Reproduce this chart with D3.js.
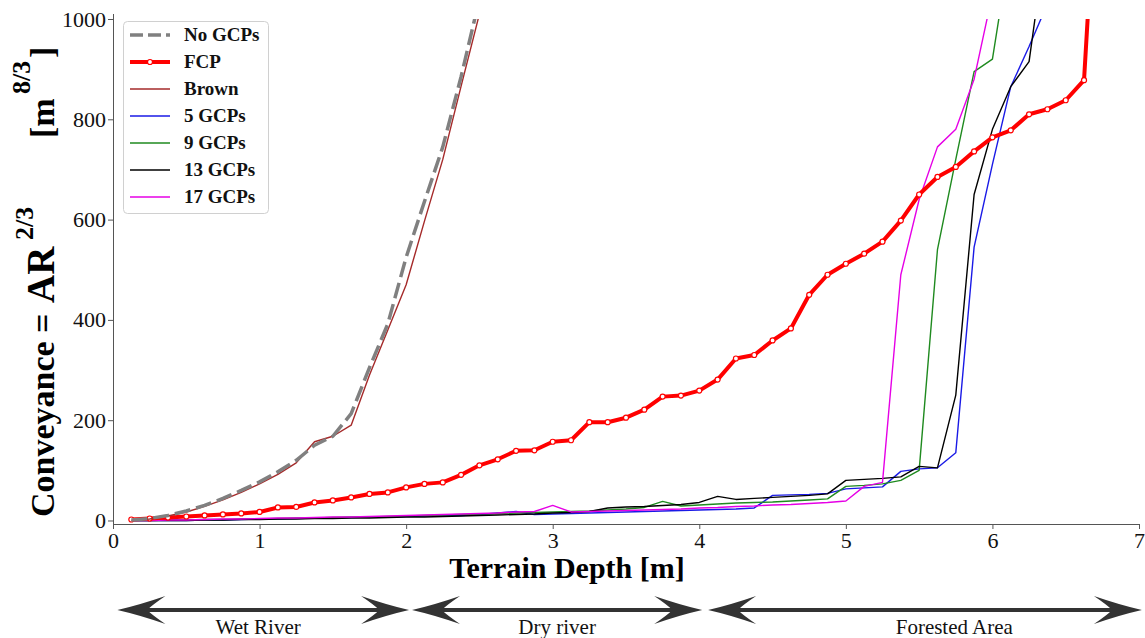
<!DOCTYPE html>
<html>
<head>
<meta charset="utf-8">
<script src="https://cdn.jsdelivr.net/npm/d3@7"></script>
<style>
    body { margin: 0; background: #fff; }
    svg text { font-family: 'Liberation Serif', 'Times New Roman', 'DejaVu Serif', serif; }
</style>
</head>
<body>
<div id="graph-container"></div>
<script>
// terrain depth [m], one sample every 0.125 m
const depth = [0.125, 0.25, 0.375, 0.5, 0.625, 0.75, 0.875, 1.0, 1.125, 1.25,
    1.375, 1.5, 1.625, 1.75, 1.875, 2.0, 2.125, 2.25, 2.375, 2.5,
    2.625, 2.75, 2.875, 3.0, 3.125, 3.25, 3.375, 3.5, 3.625, 3.75,
    3.875, 4.0, 4.125, 4.25, 4.375, 4.5, 4.625, 4.75, 4.875, 5.0,
    5.125, 5.25, 5.375, 5.5, 5.625, 5.75, 5.875, 6.0, 6.125, 6.25,
    6.375, 6.5, 6.625, 6.75];

// conveyance values (index i -> depth[i])
const noGcps = [1, 4, 10, 19, 30, 44, 60, 77, 97, 120,
    150, 168, 213, 305, 392, 525, 636, 745, 885, 1040, 1250];
const brown = [0, 3, 9, 17, 28, 41, 56, 73, 92, 115,
    157, 168, 190, 290, 380, 470, 597, 720, 866, 1010, 1200];
const fcp = [2, 4, 6, 8, 10, 12, 14, 17, 26, 27,
    36, 40, 46, 53, 56, 66, 73, 76, 91, 110,
    122, 139, 140, 157, 160, 196, 196, 205, 221, 247,
    249, 259, 281, 323, 330, 359, 383, 450, 490, 512,
    532, 556, 598, 650, 685, 705, 736, 764, 778, 810,
    820, 838, 878, 1500];
const gcp5 = [0, 0, 0, 0, 1, 1, 2, 3, 3, 4,
    5, 5, 6, 7, 7, 8, 9, 10, 10, 12,
    15, 18, 12, 13, 14, 15, 16, 17, 18, 19,
    20, 21, 22, 23, 25, 50, 51, 52, 54, 63,
    65, 67, 98, 103, 105, 135, 545, 710, 865, 945,
    1030, 1200];
const gcp9 = [0, 0, 1, 1, 2, 2, 3, 3, 4, 5,
    5, 6, 7, 7, 8, 9, 10, 11, 12, 13,
    14, 15, 16, 17, 18, 19, 21, 23, 26, 38,
    29, 31, 33, 35, 36, 37, 39, 41, 43, 68,
    70, 73, 80, 100, 540, 720, 895, 920, 1150];
const gcp13 = [0, 0, 0, 0, 1, 1, 2, 2, 3, 3,
    4, 4, 5, 5, 6, 7, 7, 8, 9, 10,
    11, 12, 13, 15, 16, 18, 25, 27, 28, 30,
    32, 36, 48, 42, 44, 46, 48, 50, 53, 80,
    82, 84, 87, 108, 105, 250, 650, 780, 865, 915,
    1180];
const gcp17 = [0, 0, 1, 1, 2, 3, 3, 4, 5, 5,
    6, 7, 7, 8, 9, 10, 11, 12, 13, 14,
    15, 17, 18, 30, 17, 18, 19, 20, 21, 22,
    23, 25, 26, 28, 29, 31, 32, 34, 36, 39,
    68, 76, 490, 640, 745, 780, 880, 1050];

const seriesNames = ['No GCPs', 'FCP', 'Brown', '5 GCPs', '9 GCPs', '13 GCPs', '17 GCPs'];
const seriesValues = [noGcps, fcp, brown, gcp5, gcp9, gcp13, gcp17];

const xTicks = [0, 1, 2, 3, 4, 5, 6, 7];
const yTicks = [0, 200, 400, 600, 800, 1000];

// zones under the axis
const zoneNames = ['Wet River', 'Dry river', 'Forested Area'];
const zoneFrom = [0.03, 2.04, 4.06];
const zoneTo = [2.02, 4.02, 7.02];
const zoneLabelAt = [0.99, 3.03, 5.74];

const styles = {
    'No GCPs': { color: '#808080', width: 3.5, dash: '16,6' },
    'FCP': { color: '#ff0000', width: 4, marker: true },
    'Brown': { color: '#a52a2a', width: 1.4 },
    '5 GCPs': { color: '#1a1ae6', width: 1.4 },
    '9 GCPs': { color: '#1f8a1f', width: 1.4 },
    '13 GCPs': { color: '#000000', width: 1.4 },
    '17 GCPs': { color: '#e600e6', width: 1.4 },
};

const width = 1145;
const height = 638;

const svg = d3.select('#graph-container')
    .append('svg')
    .attr('width', width)
    .attr('height', height);

const xScale = d3.scaleLinear().domain([0, 7]).range([113, 1139]);
const yScale = d3.scaleLinear().domain([-7, 1000]).range([524, 19]);

svg.append('clipPath')
    .attr('id', 'plot-clip')
    .append('rect')
    .attr('x', 113)
    .attr('y', 19)
    .attr('width', 1139 - 113)
    .attr('height', 524 - 19);

// Axes
const yAxis = d3.axisLeft(yScale)
    .tickValues(yTicks)
    .tickFormat(d3.format('d'))
    .tickSizeInner(5)
    .tickSizeOuter(0)
    .tickPadding(2);

const yg = svg.append('g')
    .attr('transform', 'translate(113,0)')
    .call(yAxis);
yg.select('.domain').attr('stroke', '#555').attr('d', 'M0.5,14V524');

const xAxis = d3.axisBottom(xScale)
    .tickValues(xTicks)
    .tickFormat(d3.format('d'))
    .tickSizeInner(5)
    .tickSizeOuter(0)
    .tickPadding(3);

const xg = svg.append('g')
    .attr('transform', 'translate(0,524)')
    .call(xAxis);
xg.select('.domain').attr('stroke', '#555');

svg.selectAll('.tick line').attr('stroke', '#555');
svg.selectAll('.tick text')
    .attr('font-size', 22)
    .attr('fill', '#111');

// Lines
const plot = svg.append('g').attr('clip-path', 'url(#plot-clip)');

const lineFunction = d3.line()
    .x((value, index) => xScale(depth[index]))
    .y((value) => yScale(value));

// draw order: thin lines first, then FCP, brown and the dashed one on top
const drawOrder = [3, 4, 5, 6, 1, 2, 0];
drawOrder.forEach((s) => {
    const st = styles[seriesNames[s]];
    plot.append('path')
        .attr('d', lineFunction(seriesValues[s]))
        .attr('fill', 'none')
        .attr('stroke', st.color)
        .attr('stroke-width', st.width)
        .attr('stroke-linejoin', 'round')
        .attr('stroke-dasharray', st.dash || null);
    if (st.marker) {
        plot.selectAll(null)
            .data(seriesValues[s])
            .enter()
            .append('circle')
            .attr('cx', (value, index) => xScale(depth[index]))
            .attr('cy', (value) => yScale(value))
            .attr('r', 2.5)
            .attr('fill', '#fff')
            .attr('stroke', st.color)
            .attr('stroke-width', 1.2);
    }
});

// Legend
const legend = svg.append('g');
legend.append('rect')
    .attr('x', 123.5)
    .attr('y', 21.5)
    .attr('width', 145)
    .attr('height', 192)
    .attr('rx', 4)
    .attr('fill', '#fff')
    .attr('fill-opacity', 0.85)
    .attr('stroke', '#d0d0d0');

seriesNames.forEach((name, i) => {
    const st = styles[name];
    const ly = 35 + i * 27;
    legend.append('line')
        .attr('x1', 130)
        .attr('x2', 170)
        .attr('y1', ly)
        .attr('y2', ly)
        .attr('stroke', st.color)
        .attr('stroke-width', st.width)
        .attr('stroke-dasharray', st.dash ? '13,5' : null);
    if (st.marker) {
        legend.append('circle')
            .attr('cx', 150)
            .attr('cy', ly)
            .attr('r', 2.5)
            .attr('fill', '#fff')
            .attr('stroke', st.color)
            .attr('stroke-width', 1.2);
    }
    legend.append('text')
        .attr('x', 184)
        .attr('y', ly + 6)
        .attr('font-size', 19)
        .attr('font-weight', 'bold')
        .attr('fill', '#111')
        .text(name);
});

// Axis titles
svg.append('text')
    .attr('x', 567)
    .attr('y', 578)
    .attr('text-anchor', 'middle')
    .attr('font-size', 30)
    .attr('font-weight', 'bold')
    .text('Terrain Depth [m]');

// rotated title; in the rotated frame x = -pageY, y = pageX
const yTitle = svg.append('text')
    .attr('transform', 'rotate(-90)')
    .attr('font-size', 34)
    .attr('font-weight', 'bold');
yTitle.append('tspan').attr('x', -517).attr('y', 54).text('Conveyance');
yTitle.append('tspan').attr('x', -333).attr('y', 54).text('=');
yTitle.append('tspan').attr('x', -303).attr('y', 54).attr('font-size', 39).text('AR');
yTitle.append('tspan').attr('x', -240).attr('y', 33).attr('font-size', 26).text('2/3');
yTitle.append('tspan').attr('x', -138).attr('y', 54).text('[m');
yTitle.append('tspan').attr('x', -94).attr('y', 30).attr('font-size', 26).text('8/3');
yTitle.append('tspan').attr('x', -58).attr('y', 54).text(']');

// Zone arrows
const arrowY = 610;
const headLen = 48;
const headHalf = 14;
const headPath = (tipX, dir) => {
    const L = headLen * dir;
    const H = headHalf;
    return `M${tipX},${arrowY}`
        + `Q${tipX + L * 0.45},${arrowY - H * 0.35} ${tipX + L},${arrowY - H}`
        + `Q${tipX + L * 0.72},${arrowY - H * 0.35} ${tipX + L * 0.62},${arrowY}`
        + `Q${tipX + L * 0.72},${arrowY + H * 0.35} ${tipX + L},${arrowY + H}`
        + `Q${tipX + L * 0.45},${arrowY + H * 0.35} ${tipX},${arrowY}Z`;
};

zoneNames.forEach((name, i) => {
    const x1 = xScale(zoneFrom[i]);
    const x2 = xScale(zoneTo[i]);
    svg.append('line')
        .attr('x1', x1 + 10)
        .attr('x2', x2 - 10)
        .attr('y1', arrowY)
        .attr('y2', arrowY)
        .attr('stroke', '#333')
        .attr('stroke-width', 4);
    svg.append('path').attr('d', headPath(x1, 1)).attr('fill', '#333');
    svg.append('path').attr('d', headPath(x2, -1)).attr('fill', '#333');
    svg.append('text')
        .attr('x', xScale(zoneLabelAt[i]))
        .attr('y', 634)
        .attr('text-anchor', 'middle')
        .attr('font-size', 21)
        .attr('fill', '#111')
        .text(name);
});
</script>
</body>
</html>
